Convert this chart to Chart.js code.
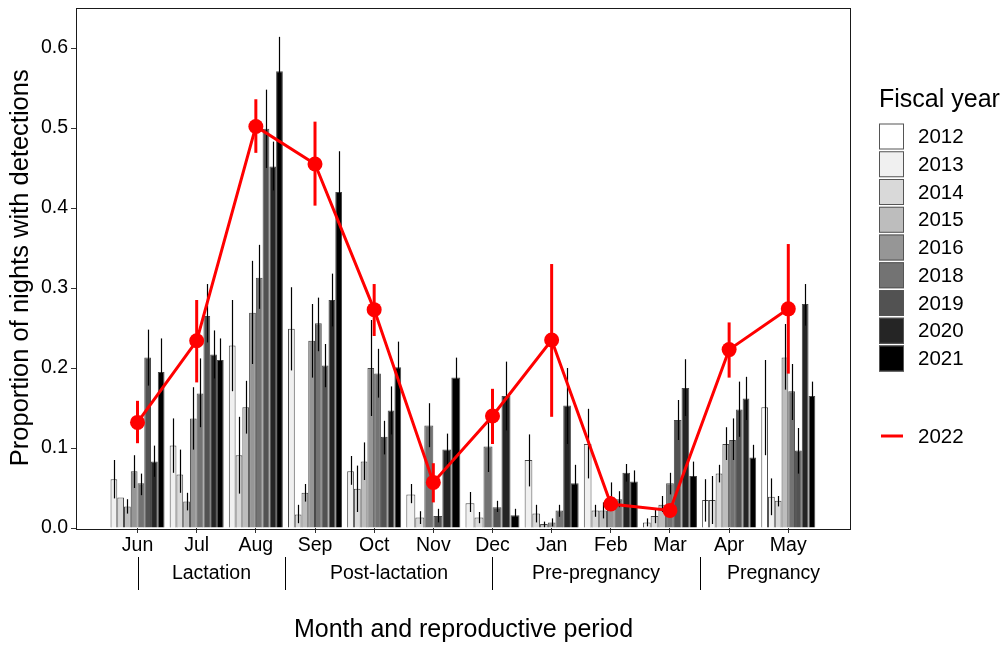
<!DOCTYPE html>
<html>
<head>
<meta charset="utf-8">
<script src="https://cdn.jsdelivr.net/npm/chart.js@4.4.0/dist/chart.umd.min.js"></script>
<style>
  html, body { margin: 0; padding: 0; background: #fff; }
</style>
</head>
<body>
<canvas id="myChart" width="1003" height="646"></canvas>
<script>
// Months (x categories) and tick labels
const months = ['Jun', 'Jul', 'Aug', 'Sep', 'Oct', 'Nov', 'Dec', 'Jan', 'Feb', 'Mar', 'Apr', 'May']
const yTicks = [0, 0.1, 0.2, 0.3, 0.4, 0.5, 0.6]

// Reproductive periods: separators at these month positions, last value = end of Pregnancy
const periodLabels = ['Lactation', 'Post-lactation', 'Pre-pregnancy', 'Pregnancy']
const periodBreaks = [1, 3.5, 7, 10.5, 13]

// Fiscal years shown as bars
const years = ['2012', '2013', '2014', '2015', '2016', '2018', '2019', '2020', '2021']
const greys = ['#FFFFFF', '#F0F0F0', '#D9D9D9', '#BDBDBD', '#969696', '#737373', '#525252', '#252525', '#000000']

// proportion of nights with detections (null = no data that month)
//                Jun    Jul    Aug    Sep    Oct    Nov    Dec    Jan    Feb    Mar    Apr    May
const y2012  = [null,  null,  null,  null,  null,  null,  null,  null,  null,  null,  0.035, 0.151]
const lo2012 = [null,  null,  null,  null,  null,  null,  null,  null,  null,  null,  0.008, 0.091]
const hi2012 = [null,  null,  null,  null,  null,  null,  null,  null,  null,  null,  0.061, 0.210]

const y2013  = [0.061, 0.103, 0.228, 0.249, 0.071, 0.042, 0.031, 0.085, 0.105, 0.007, 0.035, 0.039]
const lo2013 = [0.037, 0.069, 0.171, 0.197, 0.054, 0.031, 0.020, 0.052, 0.062, 0.002, 0.005, 0.016]
const hi2013 = [0.085, 0.137, 0.285, 0.301, 0.090, 0.055, 0.045, 0.117, 0.149, 0.012, 0.065, 0.062]

const y2014  = [0.038, 0.067, 0.091, 0.017, 0.049, 0.013, 0.013, 0.018, 0.022, 0.015, 0.068, 0.034]
const lo2014 = [null,  0.044, 0.043, 0.006, 0.020, 0.005, 0.006, 0.007, 0.014, 0.006, 0.057, 0.027]
const hi2014 = [null,  0.098, 0.139, 0.029, 0.078, 0.021, 0.020, 0.029, 0.029, 0.024, 0.079, 0.040]

const y2015  = [0.027, 0.033, 0.151, 0.044, 0.083, null,  null,  0.005, 0.022, 0.029, 0.105, 0.213]
const lo2015 = [0.018, 0.022, 0.118, 0.033, 0.060, null,  null,  0.001, 0.012, 0.020, 0.085, 0.173]
const hi2015 = [0.036, 0.044, 0.184, 0.055, 0.107, null,  null,  0.008, 0.032, 0.040, 0.126, 0.255]

const y2016  = [0.071, 0.137, 0.269, 0.234, 0.200, null,  null,  0.007, 0.039, null,  null,  null]
const lo2016 = [0.050, 0.098, 0.205, 0.188, 0.140, null,  null,  0.002, 0.022, null,  null,  null]
const hi2016 = [0.091, 0.176, 0.334, 0.280, 0.260, null,  null,  0.012, 0.057, null,  null,  null]

const y2018  = [0.056, 0.168, 0.313, 0.256, 0.193, 0.128, 0.102, 0.022, 0.036, 0.056, 0.110, 0.171]
const lo2018 = [0.041, 0.126, 0.274, 0.221, 0.163, 0.101, 0.070, 0.014, 0.026, 0.042, 0.085, 0.135]
const hi2018 = [0.068, 0.212, 0.354, 0.288, 0.224, 0.156, 0.135, 0.029, 0.046, 0.069, 0.137, 0.205]

const y2019  = [0.213, 0.265, 0.499, 0.203, 0.114, 0.015, 0.026, null,  null,  0.135, 0.148, 0.097]
const lo2019 = [0.178, 0.232, 0.450, 0.176, 0.092, 0.007, 0.020, null,  null,  0.110, 0.114, 0.068]
const hi2019 = [0.248, 0.305, 0.548, 0.230, 0.134, 0.024, 0.034, null,  null,  0.160, 0.183, 0.125]

const y2020  = [0.083, 0.217, 0.452, 0.285, 0.147, 0.098, 0.165, 0.153, 0.069, 0.175, 0.162, 0.280]
const lo2020 = [0.064, 0.187, 0.422, 0.252, 0.117, 0.076, 0.122, 0.105, 0.058, 0.140, 0.135, 0.253]
const hi2020 = [0.103, 0.247, 0.483, 0.318, 0.177, 0.118, 0.208, 0.200, 0.080, 0.211, 0.189, 0.305]

const y2021  = [0.195, 0.210, 0.571, 0.420, 0.201, 0.188, 0.016, 0.056, 0.058, 0.065, 0.088, 0.165]
const lo2021 = [0.162, 0.182, 0.530, 0.369, 0.170, 0.163, 0.006, 0.034, 0.045, 0.047, 0.071, 0.140]
const hi2021 = [0.237, 0.237, 0.614, 0.471, 0.233, 0.213, 0.024, 0.079, 0.072, 0.083, 0.104, 0.183]

// 2022 shown as line with points
const y2022  = [0.132, 0.234, 0.502, 0.455, 0.273, 0.057, 0.140, 0.235, 0.030, 0.022, 0.223, 0.274]
const lo2022 = [0.106, 0.182, 0.469, 0.403, 0.240, 0.032, 0.105, 0.139, 0.022, 0.015, 0.188, 0.193]
const hi2022 = [0.159, 0.285, 0.536, 0.508, 0.305, 0.081, 0.174, 0.330, 0.040, 0.030, 0.257, 0.355]

const barValues = [y2012, y2013, y2014, y2015, y2016, y2018, y2019, y2020, y2021]
const barLow = [lo2012, lo2013, lo2014, lo2015, lo2016, lo2018, lo2019, lo2020, lo2021]
const barHigh = [hi2012, hi2013, hi2014, hi2015, hi2016, hi2018, hi2019, hi2020, hi2021]

const RED = '#FF0000'
const FONT = '"Liberation Sans", Arial, sans-serif'
const lineIndex = years.length

// error bars: black ones for bars, then red ones for 2022 (just before the line is drawn)
const errorBars = {
    id: 'errorBars',
    beforeDatasetDraw(chart, args) {
        if (args.index !== lineIndex) return
        const ctx = chart.ctx
        const y = chart.scales.y
        ctx.save()
        ctx.strokeStyle = '#000'
        ctx.lineWidth = 1.2
        barValues.forEach((vals, d) => {
            const meta = chart.getDatasetMeta(d)
            vals.forEach((v, i) => {
                if (v == null || barLow[d][i] == null) return
                const x = Math.round(meta.data[i].x) + 0.5
                ctx.beginPath()
                ctx.moveTo(x, y.getPixelForValue(barLow[d][i]))
                ctx.lineTo(x, y.getPixelForValue(barHigh[d][i]))
                ctx.stroke()
            })
        })
        const meta = chart.getDatasetMeta(lineIndex)
        ctx.strokeStyle = RED
        ctx.lineWidth = 3
        y2022.forEach((v, i) => {
            const x = meta.data[i].x
            ctx.beginPath()
            ctx.moveTo(x, y.getPixelForValue(lo2022[i]))
            ctx.lineTo(x, y.getPixelForValue(hi2022[i]))
            ctx.stroke()
        })
        ctx.restore()
    }
}

// panel border, period annotation under the months, and the legend
const extras = {
    id: 'extras',
    afterDraw(chart) {
        const ctx = chart.ctx
        const a = chart.chartArea
        const xs = chart.scales.x
        ctx.save()
        ctx.strokeStyle = '#1a1a1a'
        ctx.lineWidth = 1
        ctx.strokeRect(Math.round(a.left) + 0.5, Math.round(a.top) + 0.5,
            Math.round(a.right - a.left) - 1, Math.round(a.bottom - a.top))

        // reproductive periods
        ctx.strokeStyle = '#000'
        ctx.fillStyle = '#000'
        ctx.font = '19.5px ' + FONT
        ctx.textAlign = 'center'
        ctx.textBaseline = 'middle'
        for (let p = 0; p < periodLabels.length; p++) {
            const x0 = Math.round(xs.getPixelForValue(periodBreaks[p])) + 0.5
            ctx.beginPath()
            ctx.moveTo(x0, a.bottom + 29)
            ctx.lineTo(x0, a.bottom + 62)
            ctx.stroke()
            const xm = xs.getPixelForValue((periodBreaks[p] + periodBreaks[p + 1]) / 2)
            ctx.fillText(periodLabels[p], xm, a.bottom + 46)
        }

        // legend
        const lx = a.right + 28
        ctx.textAlign = 'left'
        ctx.font = '25px ' + FONT
        ctx.fillText('Fiscal year', lx, 100)
        ctx.font = '20.5px ' + FONT
        const step = 27.75
        years.forEach((yr, k) => {
            const top = 123.5 + k * step
            ctx.fillStyle = greys[k]
            ctx.fillRect(lx, top, 25, 26)
            ctx.strokeStyle = '#555'
            ctx.strokeRect(lx + 0.5, top + 0.5, 24, 25)
            ctx.fillStyle = '#000'
            ctx.fillText(yr, lx + 39, top + 14)
        })
        ctx.strokeStyle = RED
        ctx.lineWidth = 3
        ctx.beginPath()
        ctx.moveTo(lx + 2, 436)
        ctx.lineTo(lx + 24, 436)
        ctx.stroke()
        ctx.fillStyle = '#000'
        ctx.fillText('2022', lx + 39, 437)
        ctx.restore()
    }
}

Chart.defaults.font.family = FONT
Chart.defaults.color = '#000'

const datasets = years.map((yr, k) => ({
    type: 'bar',
    label: yr,
    data: barValues[k],
    backgroundColor: greys[k],
    borderColor: '#4a4a4a',
    borderWidth: 1,
    categoryPercentage: 0.913,
    barPercentage: 1.0,
    skipNull: true,
    order: 1
}))
datasets.push({
    type: 'line',
    label: '2022',
    data: y2022,
    borderColor: RED,
    backgroundColor: RED,
    borderWidth: 3,
    pointRadius: 7.5,
    pointBorderWidth: 0,
    pointBackgroundColor: RED,
    tension: 0,
    order: 0
})

const ctx = document.getElementById('myChart')
new Chart(ctx, {
    type: 'bar',
    data: {
        labels: months.map((m, i) => i + 1),
        datasets: datasets
    },
    options: {
        responsive: false,
        animation: false,
        devicePixelRatio: 1,
        events: [],
        layout: { padding: { left: 0, right: 152, top: 5, bottom: 0 } },
        plugins: {
            legend: { display: false },
            tooltip: { enabled: false }
        },
        scales: {
            x: {
                type: 'linear',
                min: -0.04,
                max: 13.06,
                offset: false,
                afterFit: (scale) => {
                    scale.height = 118
                    scale.paddingLeft = 0
                    scale.paddingRight = 0
                },
                afterBuildTicks: (scale) => { scale.ticks = months.map((m, i) => ({ value: i + 1 })) },
                grid: { drawOnChartArea: false, drawTicks: true, tickLength: 5, color: '#333', offset: false },
                border: { display: false },
                ticks: {
                    font: { size: 19.5 },
                    color: '#000',
                    padding: 1,
                    maxRotation: 0,
                    autoSkip: false,
                    callback: (v) => months[v - 1]
                },
                title: {
                    display: true,
                    text: 'Month and reproductive period',
                    font: { size: 25 },
                    color: '#000',
                    padding: { top: 0, bottom: 1 }
                }
            },
            y: {
                min: 0,
                max: 0.6507,
                afterFit: (scale) => {
                    scale.width = 76
                    scale.paddingTop = 0
                    scale.paddingBottom = 0
                },
                afterBuildTicks: (scale) => { scale.ticks = yTicks.map(v => ({ value: v })) },
                grid: { drawOnChartArea: false, drawTicks: true, tickLength: 5, color: '#333' },
                border: { display: false },
                ticks: {
                    font: { size: 19.5 },
                    color: '#000',
                    padding: 3,
                    callback: (v) => v.toFixed(1)
                },
                title: {
                    display: true,
                    text: 'Proportion of nights with detections',
                    font: { size: 25.5 },
                    color: '#000',
                    padding: { top: 6, bottom: 0 }
                }
            }
        }
    },
    plugins: [errorBars, extras]
})
</script>
</body>
</html>
